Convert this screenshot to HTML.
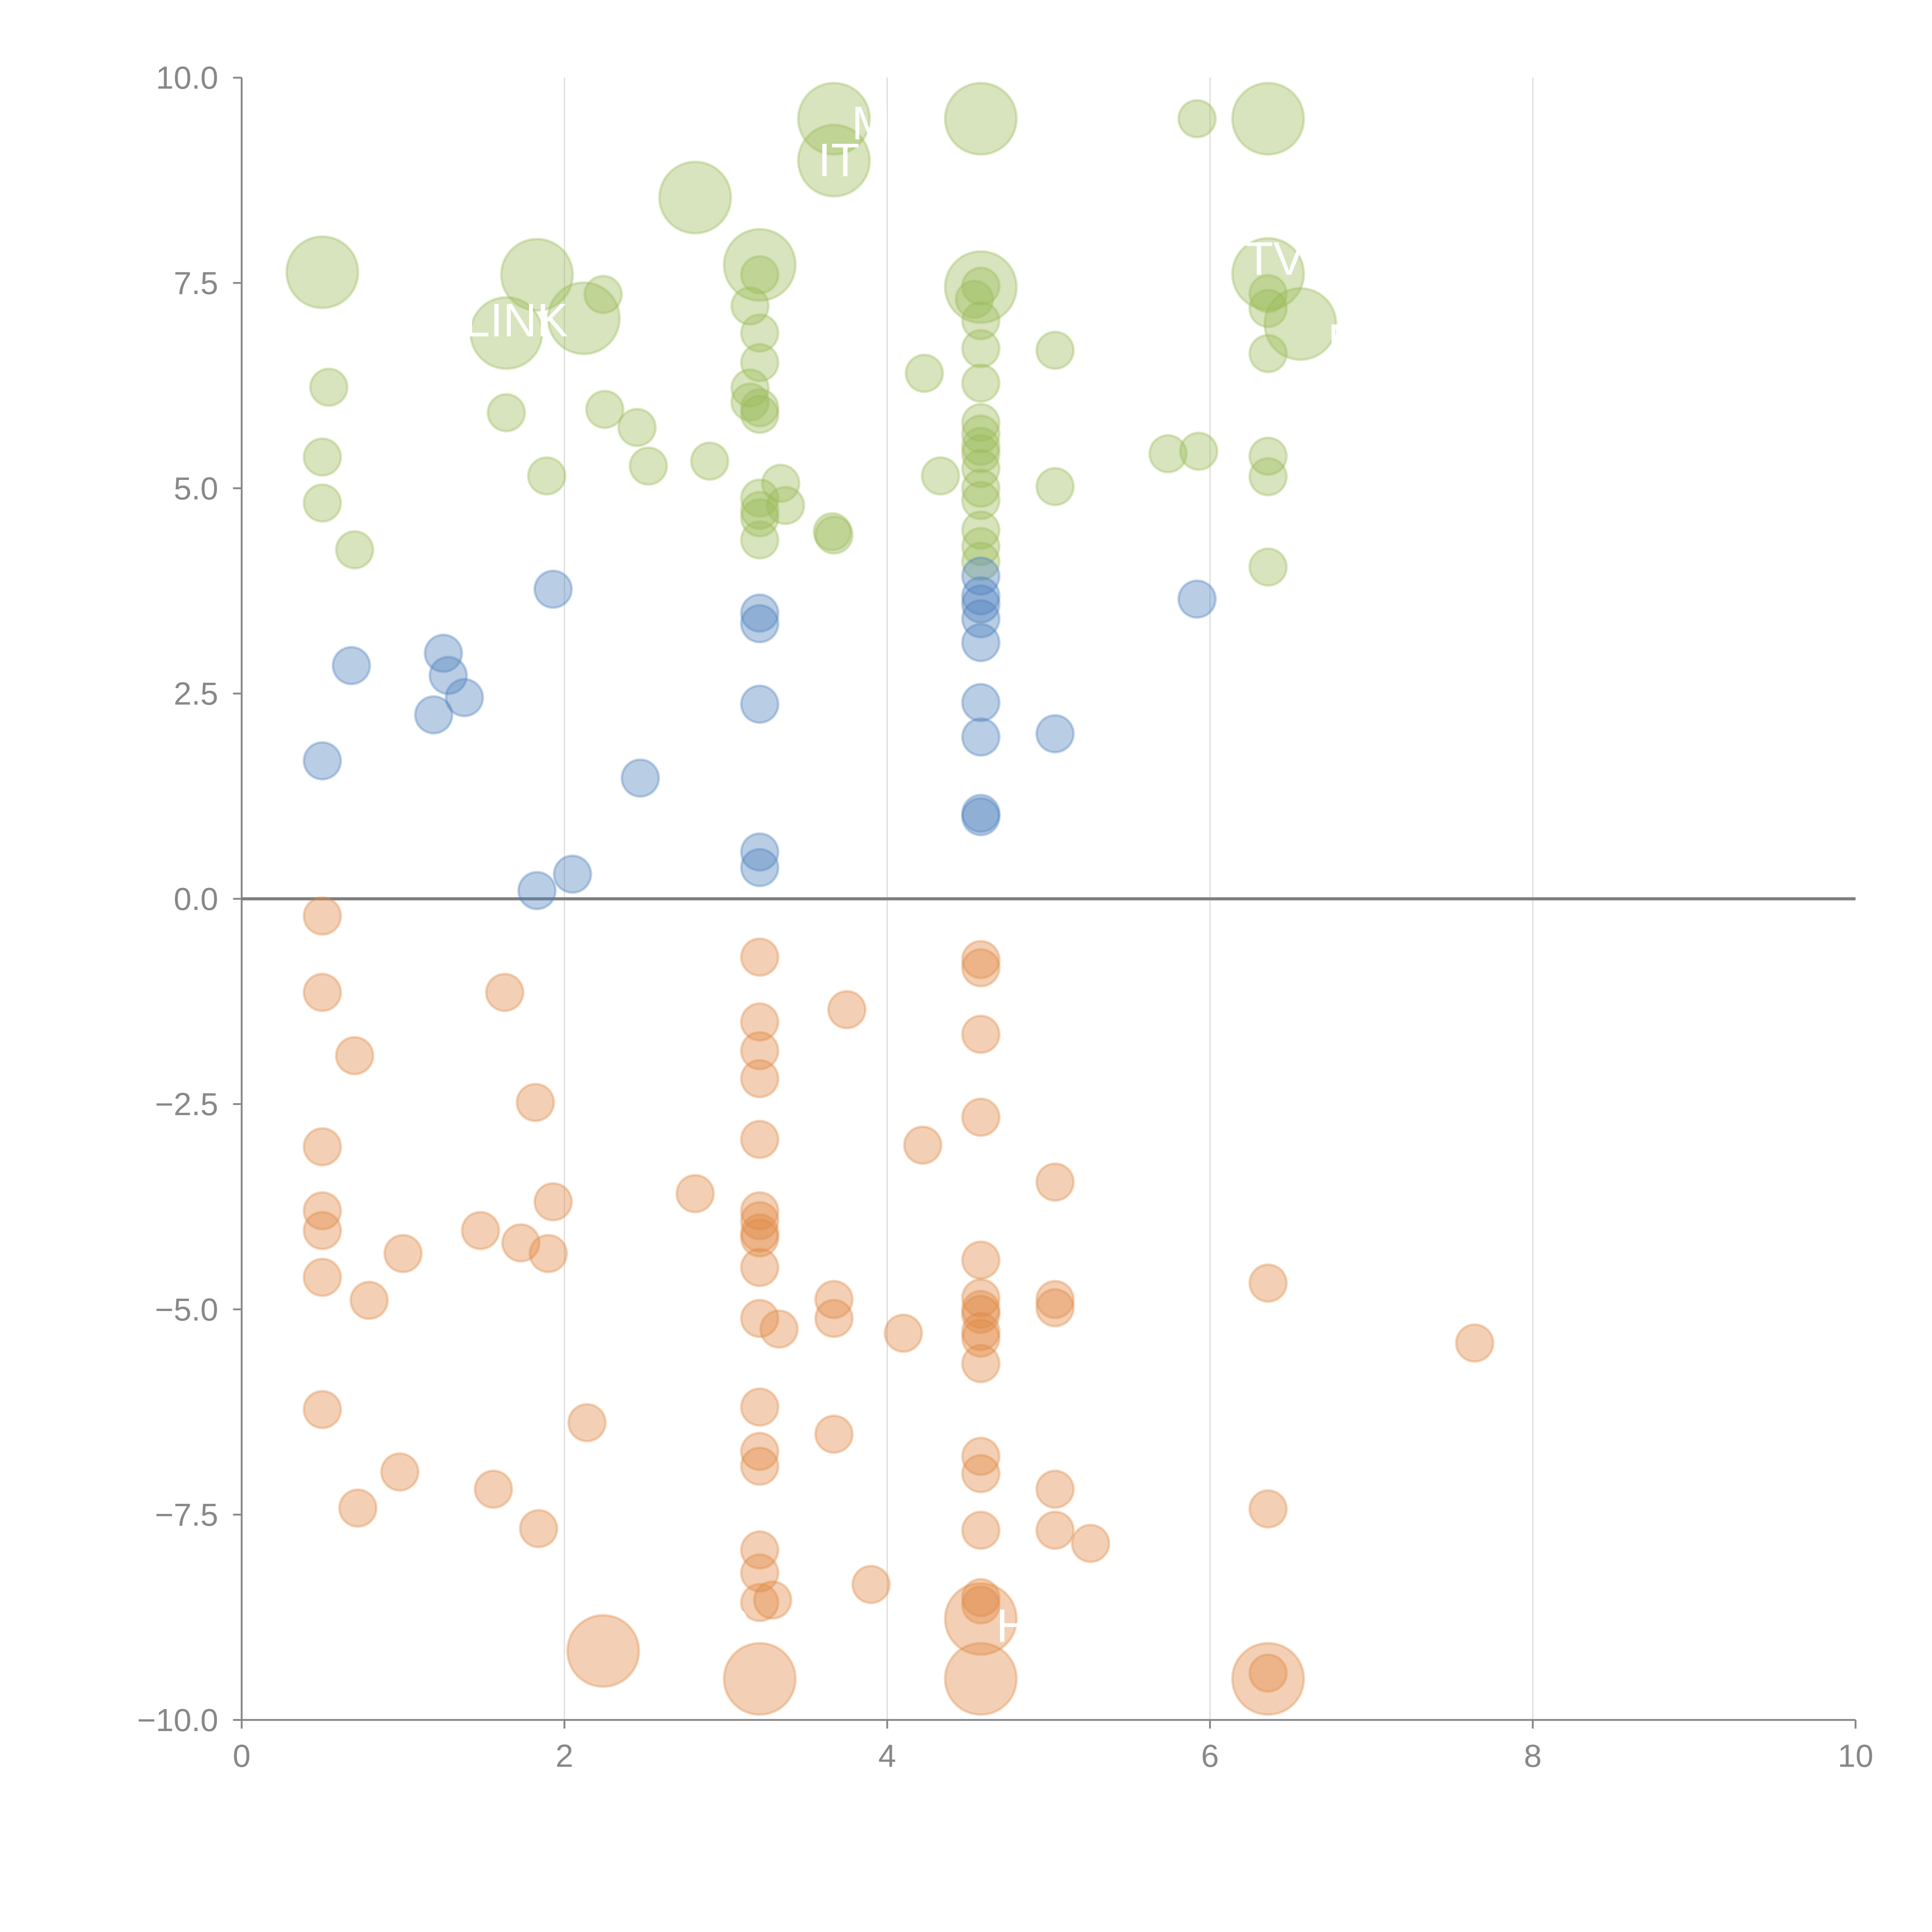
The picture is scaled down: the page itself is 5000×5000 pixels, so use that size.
<!DOCTYPE html>
<html><head><meta charset="utf-8"><style>
html,body{margin:0;padding:0;background:#fff;}
svg{display:block;font-family:"Liberation Sans",sans-serif;}
</style></head><body>
<svg id="chart" width="5000" height="5000" viewBox="0 0 1567 1567" xmlns="http://www.w3.org/2000/svg"></svg>
<script>
const greenX=[0.5,0.54,0.5,0.5,0.7,1.64,1.83,2.12,2.24,1.64,1.89,2.25,2.45,2.52,2.81,2.9,3.21,3.21,3.15,3.21,3.21,3.15,3.15,3.21,3.21,3.21,3.21,3.21,3.34,3.37,3.21,3.66,3.67,3.67,3.67,4.23,4.33,4.58,4.58,4.58,4.54,4.58,4.58,4.58,4.58,4.58,4.58,4.58,4.58,4.58,4.58,4.58,4.58,4.58,5.04,5.04,5.74,5.92,5.93,6.36,6.36,6.36,6.36,6.56,6.36,6.36,6.36,6.36];
const greenY=[7.63,6.23,5.38,4.82,4.25,6.89,7.6,7.07,7.36,5.92,5.15,5.96,5.74,5.27,8.54,5.33,7.72,7.6,7.22,6.89,6.53,6.22,6.05,5.98,5.9,4.88,4.73,4.37,5.06,4.79,4.64,4.47,4.43,9.5,8.99,6.4,5.15,9.5,7.45,7.46,7.3,7.04,6.7,6.28,5.8,5.66,5.51,5.42,5.24,5.0,4.85,4.49,4.29,4.11,6.68,5.02,5.42,9.5,5.45,9.5,7.61,7.37,7.19,7.0,6.64,5.39,5.14,4.04];
const greenS=[2,1,1,1,1,2,2,2,1,1,1,1,1,1,2,1,2,1,1,1,1,1,1,1,1,1,1,1,1,1,1,1,1,2,2,1,1,2,2,1,1,1,1,1,1,1,1,1,1,1,1,1,1,1,1,1,1,1,1,2,2,1,1,2,1,1,1,1];
const blueX=[0.5,0.68,1.25,1.28,1.38,1.19,1.93,1.83,2.05,2.47,3.21,3.21,3.21,3.21,3.21,4.58,4.58,4.58,4.58,4.58,4.58,4.58,4.58,4.58,5.04,5.92];
const blueY=[1.68,2.84,2.99,2.72,2.45,2.24,3.77,0.1,0.3,1.47,3.48,3.35,2.37,0.57,0.38,3.93,3.69,3.59,3.41,3.12,2.39,1.97,1.04,1.0,2.01,3.65];
const orangeX=[0.5,0.5,0.7,0.5,0.5,0.5,0.5,0.5,0.72,0.79,1.0,0.98,1.48,1.56,1.63,1.73,1.82,1.84,1.93,1.9,2.14,2.24,2.81,3.21,3.21,3.21,3.21,3.21,3.21,3.21,3.21,3.21,3.21,3.21,3.33,3.21,3.21,3.21,3.21,3.21,3.21,3.29,3.21,3.67,3.67,3.75,3.67,3.9,4.1,4.22,4.58,4.58,4.58,4.58,4.58,4.58,4.58,4.58,4.58,4.58,4.58,4.58,4.58,4.58,4.58,4.58,4.58,4.58,5.04,5.04,5.04,5.04,5.26,5.04,6.36,6.36,6.36,6.36,7.64];
const orangeY=[-0.21,-1.14,-1.91,-3.02,-3.8,-4.04,-4.61,-6.22,-7.42,-4.89,-4.32,-6.98,-4.04,-7.19,-1.14,-4.19,-2.48,-7.67,-3.69,-4.32,-6.38,-9.16,-3.59,-0.71,-1.5,-1.85,-2.19,-2.93,-3.8,-3.92,-4.07,-4.13,-4.49,-5.11,-5.24,-6.19,-6.73,-6.91,-7.93,-8.21,-8.57,-8.54,-9.5,-4.88,-5.11,-1.35,-6.52,-8.35,-5.29,-3.0,-0.74,-0.84,-1.65,-2.66,-4.4,-4.86,-5.0,-5.06,-5.27,-5.35,-5.66,-6.79,-7.0,-7.69,-8.51,-8.6,-8.77,-9.5,-4.88,-4.98,-7.19,-7.69,-7.85,-3.45,-4.68,-7.43,-9.5,-9.43,-5.41];
const orangeS=[1,1,1,1,1,1,1,1,1,1,1,1,1,1,1,1,1,1,1,1,1,2,1,1,1,1,1,1,1,1,1,1,1,1,1,1,1,1,1,1,1,1,2,1,1,1,1,1,1,1,1,1,1,1,1,1,1,1,1,1,1,1,1,1,1,1,2,2,1,1,1,1,1,1,1,1,2,1,1];
const xTicks=[0,2,4,6,8,10];
const yTicks=[10,7.5,5,2.5,0,-2.5,-5,-7.5,-10];
const bubbleLabels=[{t:"LINK",x:1.7,y:6.85},{t:"M",x:3.9,y:9.25},{t:"IT",x:3.7,y:8.8},{t:"TV",x:6.4,y:7.6},{t:"M",x:6.85,y:6.6},{t:"H",x:4.78,y:-9.05},{t:"S",x:3.05,y:-9.05}];

const X0=196,X1=1505,Y0=1395,Y1=63;
const sx=v=>X0+(v-0)/(10-0)*(X1-X0);
const sy=v=>Y0-(v+10)/20*(Y0-Y1);
const NS="http://www.w3.org/2000/svg";
const svg=document.getElementById('chart');
function mk(tag,attrs,parent){const e=document.createElementNS(NS,tag);for(const k in attrs)e.setAttribute(k,attrs[k]);(parent||svg).appendChild(e);return e;}

xTicks.forEach(t=>{if(t===0||t===10)return;
  const g=mk('line',{x1:sx(t),x2:sx(t),y1:Y1,y2:Y0,stroke:'#dcdcdc','stroke-width':1});
  
  
});
const ya=mk('line',{x1:X0,x2:X0,y1:Y1,y2:Y0,stroke:'#888','stroke-width':1.5});


const xa=mk('line',{x1:X0,x2:X1,y1:Y0,y2:Y0,stroke:'#888','stroke-width':1.5});


yTicks.forEach(t=>{
  const l=mk('line',{x1:X0-7,x2:X0,y1:sy(t),y2:sy(t),stroke:'#888','stroke-width':1.5});
  
  
  const tx=mk('text',{x:X0-19,y:sy(t)+9,'text-anchor':'end','font-size':26,fill:'#888'});
  tx.textContent=(t<0?'\u2212':'')+Math.abs(t).toFixed(1);
  
  
});
xTicks.forEach(t=>{
  const l=mk('line',{x1:sx(t),x2:sx(t),y1:Y0,y2:Y0+7,stroke:'#888','stroke-width':1.5});
  
  
  const tx=mk('text',{x:sx(t),y:Y0+38,'text-anchor':'middle','font-size':26,fill:'#888'});
  tx.textContent=String(t);
  
  
});
const zl=mk('line',{x1:X0,x2:X1,y1:sy(0),y2:sy(0),stroke:'#7f7f7f','stroke-width':2.5});



function series(xs,ys,ss,col,name){
  xs.forEach((v,i)=>{
    const r=ss?(ss[i]===2?29:15):15;
    const c=mk('circle',{cx:sx(v),cy:sy(ys[i]),r:r,fill:col,'fill-opacity':0.4,stroke:col,'stroke-opacity':0.35,'stroke-width':2});
    
    
  });
}
series(greenX,greenY,greenS,'#9bbb59','green');
series(blueX,blueY,null,'#4f81bd','blue');
series(orangeX,orangeY,orangeS,'#e08a45','orange');

bubbleLabels.forEach(b=>{
  const t=mk('text',{x:sx(b.x),y:sy(b.y),'text-anchor':'middle','font-size':38,fill:'#fff'});
  t.textContent=b.t;
  
  
});
</script>
</body></html>
